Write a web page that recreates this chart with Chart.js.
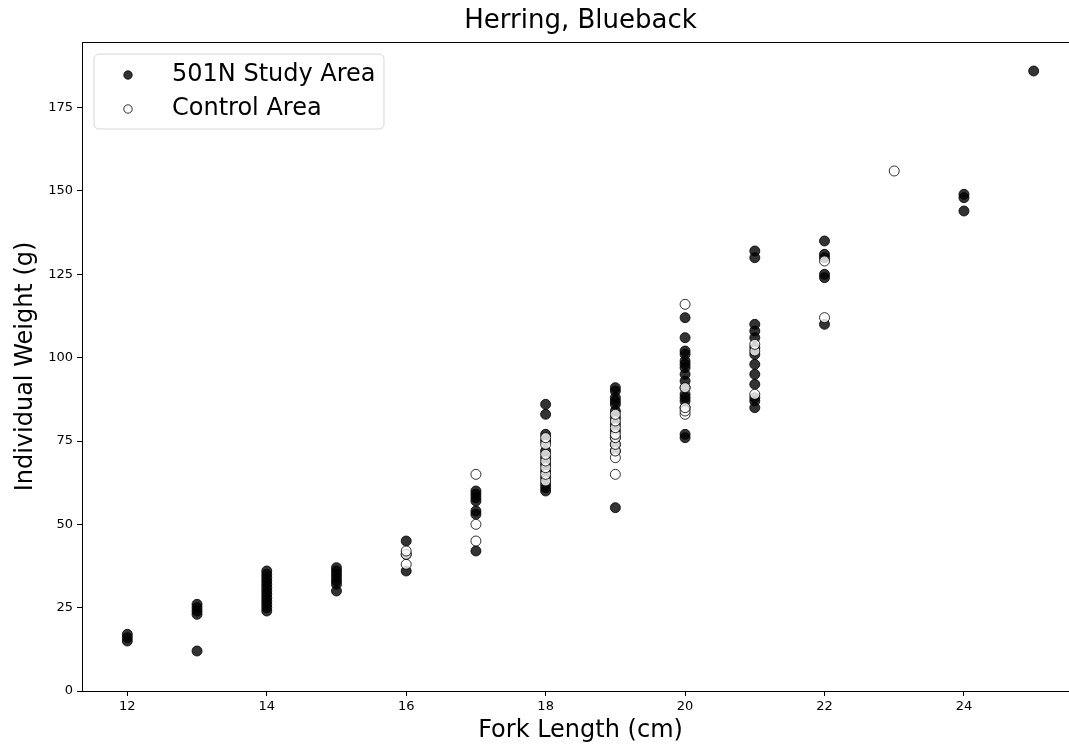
<!DOCTYPE html>
<html>
<head>
<meta charset="utf-8">
<title>Herring, Blueback</title>
<script src="https://cdn.jsdelivr.net/npm/chart.js@4.4.1/dist/chart.umd.min.js"></script>
<style>
  html, body { margin: 0; padding: 0; overflow: hidden; background: #fff; }
  #wrap { width: 1069px; height: 746px; overflow: hidden; }
</style>
</head>
<body>
<div id="wrap"><canvas id="weightChart" width="1090" height="746"></canvas></div>
<script>
// Poids individuel par longueur à la fourche, par zone d'échantillonnage
var forkLengths = [12, 13, 14, 15, 16, 17, 18, 19, 20, 21, 22, 23, 24, 25];

var studyWeights = [
  [15, 16, 17],
  [12, 23, 24, 25, 26],
  [24, 25, 26, 27, 28, 29, 30, 31, 32, 33, 34, 35, 36],
  [30, 32, 33, 34, 35, 36, 37],
  [36, 41, 45],
  [42, 53, 54, 57, 58, 59, 60],
  [60, 61, 62, 64, 66, 68, 70, 72, 75, 77, 83, 86],
  [55, 72, 74, 76, 78, 80, 82, 84, 86, 87, 88, 90, 91],
  [76, 77, 85, 87, 88, 89, 91, 93, 95, 97, 98, 99, 101, 102, 106, 112],
  [85, 87, 88, 92, 95, 98, 101, 103, 106, 108, 110, 130, 132],
  [110, 124, 125, 130, 131, 135],
  [],
  [144, 148, 149],
  [186]
];

var controlWeights = [
  [], [], [], [],
  [38, 41, 42],
  [45, 50, 65],
  [63, 65, 67, 69, 71, 74, 76],
  [65, 70, 72, 74, 76, 77, 79, 81, 83],
  [83, 84, 85, 91, 116],
  [89, 102, 104],
  [112, 129],
  [156],
  [], []
];

var xTicks = [12, 14, 16, 18, 20, 22, 24];
var yTicks = [0, 25, 50, 75, 100, 125, 150, 175];

var FONT = "'DejaVu Sans', sans-serif";
var INK = '#000000';

function toPoints(weights) {
  var pts = [];
  weights.forEach(function (list, i) {
    list.forEach(function (w) { pts.push({ x: forkLengths[i], y: w }); });
  });
  return pts;
}

function fixedTicks(values) {
  return function (scale) {
    scale.ticks = values.map(function (v) { return { value: v }; });
  };
}

// légende encadrée dans le coin haut gauche du graphique
var boxLegend = {
  id: 'boxLegend',
  afterDatasetsDraw: function (chart) {
    var ctx = chart.ctx;
    var x = 94, y = 54, w = 290, h = 75, r = 5;
    ctx.save();
    ctx.beginPath();
    ctx.moveTo(x + r, y);
    ctx.arcTo(x + w, y, x + w, y + h, r);
    ctx.arcTo(x + w, y + h, x, y + h, r);
    ctx.arcTo(x, y + h, x, y, r);
    ctx.arcTo(x, y, x + w, y, r);
    ctx.closePath();
    ctx.fillStyle = 'rgba(255,255,255,0.8)';
    ctx.fill();
    ctx.strokeStyle = 'rgba(204,204,204,0.8)';
    ctx.lineWidth = 1;
    ctx.stroke();

    ctx.font = '24px ' + FONT;
    ctx.textBaseline = 'middle';
    ctx.textAlign = 'left';
    chart.data.datasets.forEach(function (ds, i) {
      var cy = 75 + i * 34;
      ctx.beginPath();
      ctx.arc(128, cy, 4.2, 0, Math.PI * 2);
      ctx.fillStyle = ds.backgroundColor;
      ctx.fill();
      ctx.lineWidth = ds.borderWidth;
      ctx.strokeStyle = ds.borderColor;
      ctx.stroke();
      ctx.fillStyle = INK;
      ctx.fillText(ds.label, 172, cy);
    });
    ctx.restore();
  }
};

new Chart(document.getElementById('weightChart'), {
  type: 'scatter',
  data: {
    datasets: [
      {
        label: '501N Study Area',
        data: toPoints(studyWeights),
        backgroundColor: 'rgba(0,0,0,0.8)',
        borderColor: 'rgba(0,0,0,0.8)',
        borderWidth: 1,
        pointRadius: 5,
        pointHoverRadius: 5,
        order: 1
      },
      {
        label: 'Control Area',
        data: toPoints(controlWeights),
        backgroundColor: 'rgba(255,255,255,0.8)',
        borderColor: 'rgba(0,0,0,0.8)',
        borderWidth: 1,
        pointRadius: 5,
        pointHoverRadius: 5,
        order: 0
      }
    ]
  },
  options: {
    responsive: false,
    animation: false,
    layout: { padding: { top: 0, right: 11, bottom: 0, left: 0 } },
    plugins: {
      legend: { display: false },
      title: { display: false },
      tooltip: { enabled: false }
    },
    scales: {
      x: {
        type: 'linear',
        position: 'bottom',
        min: 11.35,
        max: 25.65,
        afterBuildTicks: fixedTicks(xTicks),
        afterFit: function (scale) { scale.height = 55; },
        grid: { drawOnChartArea: false, drawTicks: true, tickLength: 5, color: INK, lineWidth: 1 },
        border: { display: true, color: INK, width: 1 },
        ticks: { color: INK, font: { family: FONT, size: 13 }, padding: 3, maxRotation: 0 },
        title: {
          display: true,
          text: 'Fork Length (cm)',
          color: INK,
          font: { family: FONT, size: 24 },
          padding: { top: 0, bottom: 1 }
        }
      },
      xTop: {
        type: 'linear',
        position: 'top',
        min: 11.35,
        max: 25.65,
        afterFit: function (scale) { scale.height = 42; },
        grid: { display: false },
        border: { display: true, color: INK, width: 1 },
        ticks: { display: false },
        title: {
          display: true,
          text: 'Herring, Blueback',
          color: INK,
          font: { family: FONT, size: 26 },
          padding: { top: 6, bottom: 0 }
        }
      },
      y: {
        type: 'linear',
        position: 'left',
        min: 0,
        max: 194.7,
        afterBuildTicks: fixedTicks(yTicks),
        afterFit: function (scale) { scale.width = 82; },
        grid: { drawOnChartArea: false, drawTicks: true, tickLength: 5, color: INK, lineWidth: 1 },
        border: { display: true, color: INK, width: 1 },
        ticks: { color: INK, font: { family: FONT, size: 13 }, padding: 4 },
        title: {
          display: true,
          text: 'Individual Weight (g)',
          color: INK,
          font: { family: FONT, size: 24 },
          padding: { top: 11, bottom: 0 }
        }
      }
    }
  },
  plugins: [boxLegend]
});
</script>
</body>
</html>
